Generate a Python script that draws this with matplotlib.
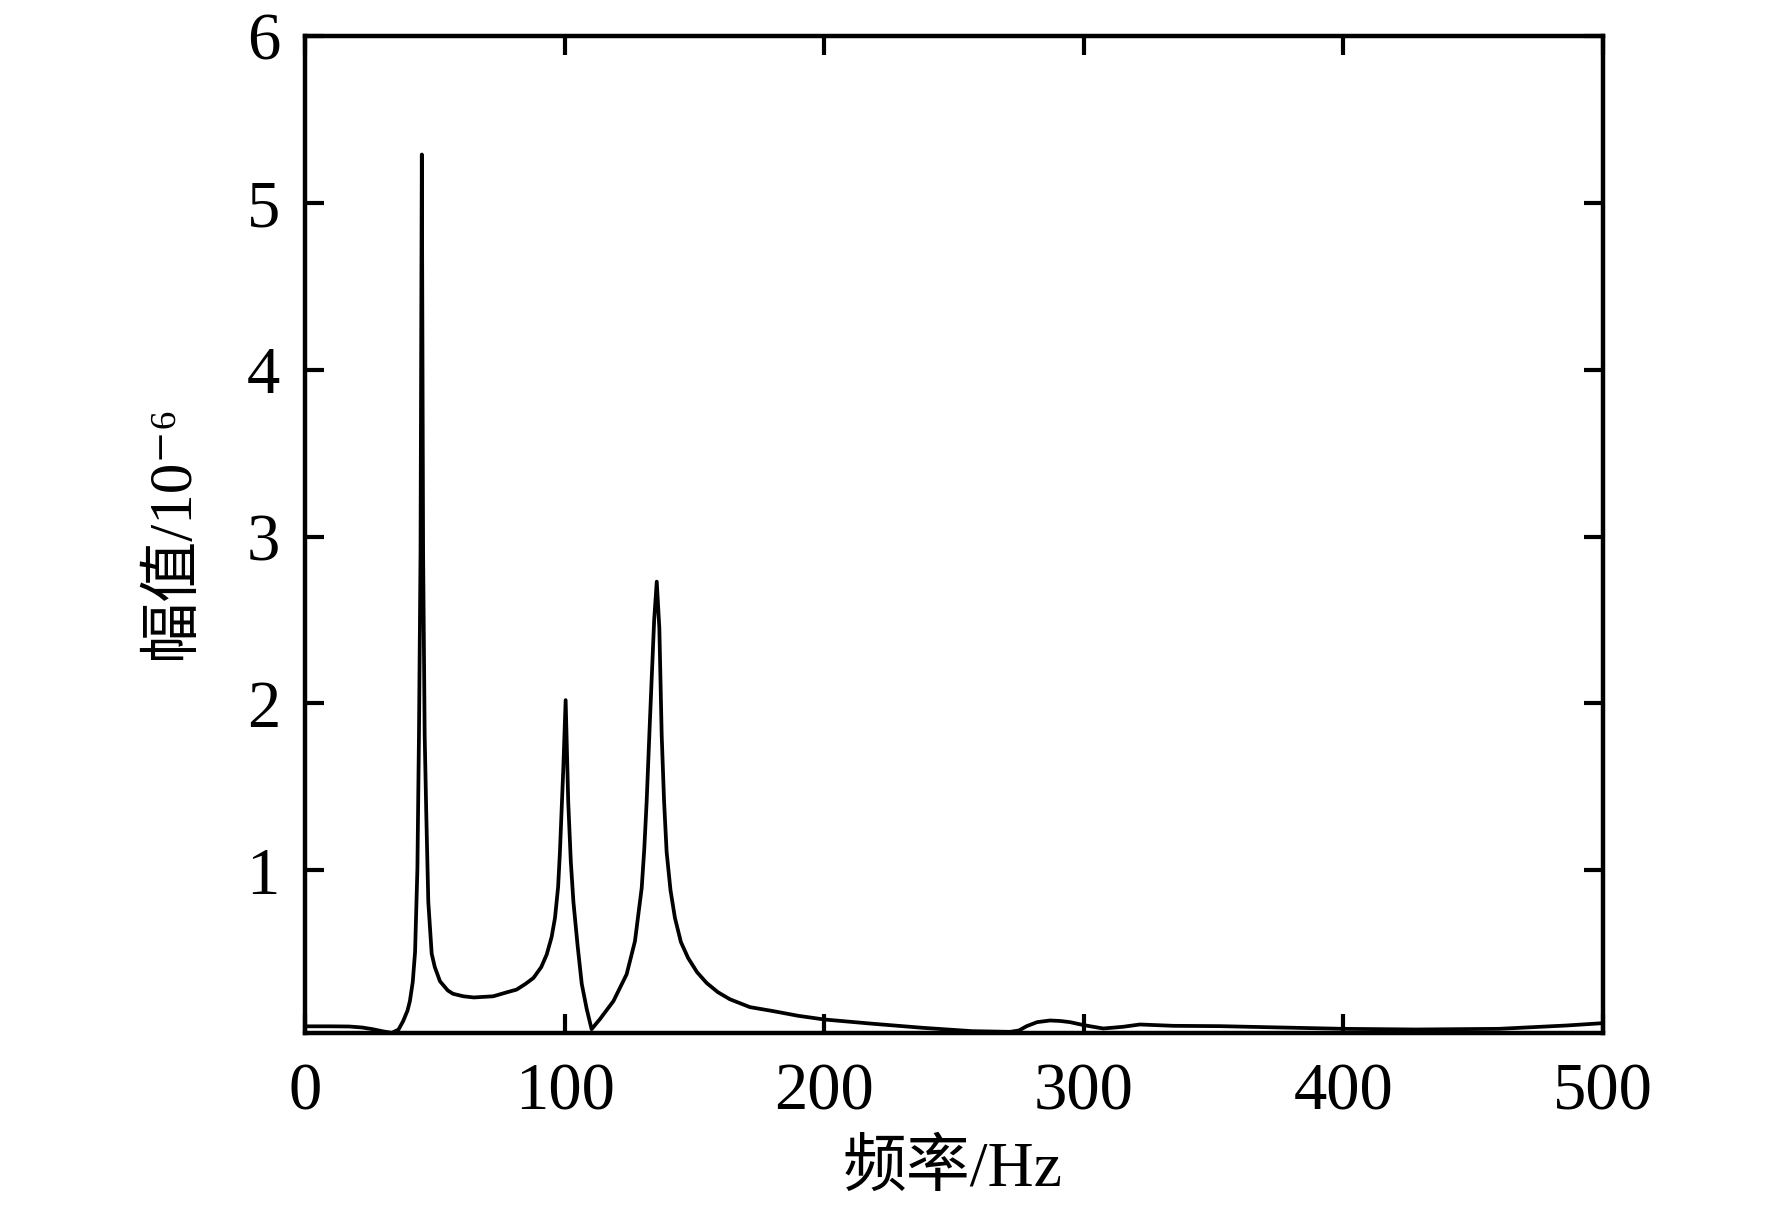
import matplotlib
matplotlib.use("Agg")
import matplotlib.pyplot as plt

plt.rcParams['font.family'] = ['Liberation Serif', 'Noto Sans CJK SC', 'DejaVu Serif']

# ---- data ----
freq = [0, 10, 17, 22, 26, 30, 33.4, 36, 37.8, 39.5, 40.4, 41.5, 42.4, 43.3, 43.9,
        44.5, 45.0, 45.5, 46.1, 46.7, 47.5, 48.8, 50, 52, 55, 57, 61, 65, 72.5, 78,
        81.5, 85, 88, 91, 93.1, 95, 96.3, 97.5, 98.2, 99.5, 100.4, 101.4, 102.4, 103.4,
        105, 106.6, 108.5, 110.4, 113.6, 118.8, 123.9, 127.1, 129.7, 130.7, 131.6,
        132.9, 134.5, 135.5, 136.5, 137.4, 138.3, 139.3, 140.8, 142.5, 144.8, 147.6,
        151, 154.7, 159, 163.7, 171.4, 180.4, 190, 200, 219, 238, 257, 271.6, 275,
        278, 282, 287, 291, 294.7, 300, 307.5, 315, 321.6, 334.5, 352.5, 370, 400,
        428, 460, 486, 500]
amp = [0.065, 0.065, 0.064, 0.058, 0.048, 0.035, 0.026, 0.045, 0.096, 0.16, 0.216,
       0.33, 0.51, 1.01, 1.81, 2.9, 5.29, 2.9, 1.81, 1.35, 0.81, 0.50, 0.42, 0.335,
       0.28, 0.26, 0.245, 0.238, 0.245, 0.27, 0.285, 0.32, 0.355, 0.42, 0.495, 0.6,
       0.715, 0.9, 1.11, 1.61, 2.02, 1.41, 1.05, 0.81, 0.55, 0.32, 0.17, 0.048, 0.108,
       0.216, 0.377, 0.575, 0.894, 1.13, 1.41, 1.91, 2.5, 2.73, 2.45, 1.81, 1.42,
       1.11, 0.88, 0.715, 0.57, 0.474, 0.39, 0.325, 0.27, 0.227, 0.18, 0.156, 0.128,
       0.106, 0.08, 0.056, 0.036, 0.032, 0.04, 0.066, 0.09, 0.1, 0.097, 0.09, 0.072,
       0.052, 0.062, 0.076, 0.068, 0.066, 0.06, 0.05, 0.046, 0.05, 0.07, 0.084]

xticks = [0, 100, 200, 300, 400, 500]
yticks = [1, 2, 3, 4, 5, 6]
xlabel = "频率/Hz"
ylabel = "幅值/10⁻⁶"

W, H = 1772, 1217
fig = plt.figure(figsize=(W / 100, H / 100), dpi=100)
ax = fig.add_axes([305 / W, 1 - 1033 / H, (1603 - 305) / W, (1033 - 36) / H])

ax.plot(freq, amp, color='black', lw=2.7, solid_joinstyle='round')

ax.set_xlim(0, 500)
ax.set_ylim(0.025, 6)
ax.set_xticks(xticks)
ax.set_yticks(yticks)
ax.set_xticklabels([str(t) for t in xticks])
ax.set_yticklabels([str(t) for t in yticks])

for s in ax.spines.values():
    s.set_linewidth(3.2)
ax.tick_params(axis='both', which='major', direction='in', length=14, width=3.0,
               top=True, right=True, labelsize=48)
ax.tick_params(axis='x', pad=21)
ax.tick_params(axis='y', pad=18)

fig.text(953 / W, 1 - 1170 / H, xlabel, fontsize=46, ha='center', va='center')
fig.text(173 / W, 1 - 532 / H, ylabel, fontsize=44, ha='center', va='center',
         rotation=90)

fig.savefig("out.png", dpi=100)
